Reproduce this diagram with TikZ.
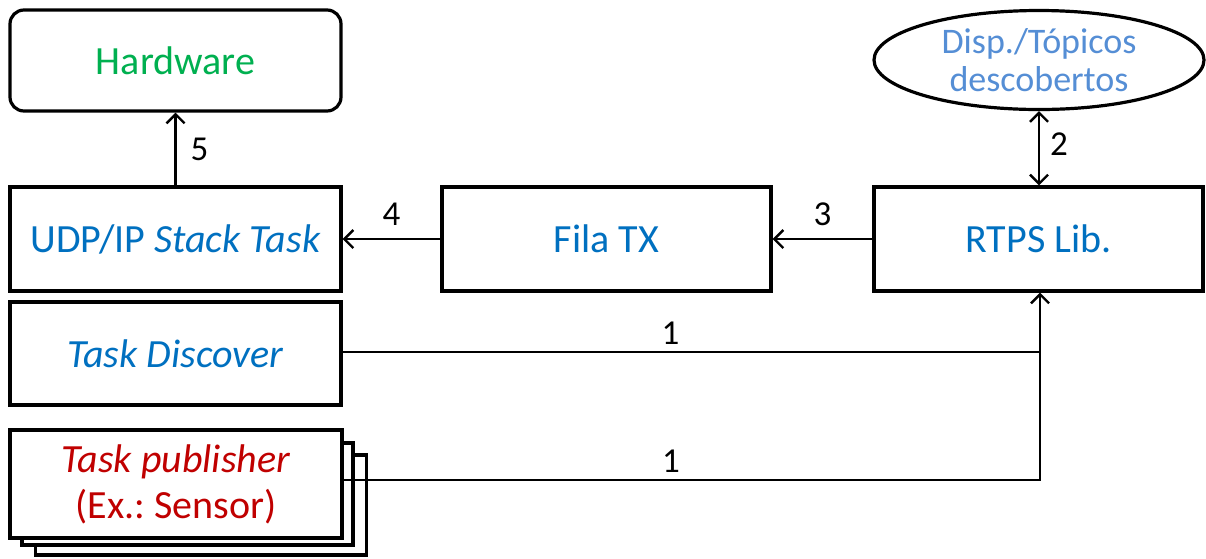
\documentclass[tikz,border=0pt]{standalone}
\usepackage{fontspec}
\setmainfont{Carlito}
\frenchspacing
\usetikzlibrary{arrows.meta,shapes.geometric}
\definecolor{hwgreen}{HTML}{00B050}
\definecolor{txtblue}{HTML}{0070C0}
\definecolor{lightblue}{HTML}{558ED5}
\definecolor{pubred}{HTML}{C00000}
\tikzset{
  box/.style={draw=black, line width=3.2pt, fill=white, rectangle, minimum width=331pt, minimum height=104pt, inner sep=0pt, align=center, font=\fontsize{40}{46}\selectfont},
  tip/.style={Straight Barb[length=9pt,width=18pt,line width=2.4pt]},
  conn/.style={line width=2.4pt, -{Straight Barb[length=9pt,width=18pt,line width=2.4pt]}},
  lbl/.style={font=\fontsize{35}{40}\selectfont, text=black, inner sep=0pt}
}
\begin{document}
\begin{tikzpicture}[x=1pt,y=-1pt]
\useasboundingbox (0,0) rectangle (1206,558);
\node[box, rounded corners=14pt, minimum height=101pt, text=hwgreen] (hw) at (175.5,60.5) {Hardware};
\node[box, text=txtblue] (udp) at (175.5,239) {UDP/IP \textit{Stack Task}};
\node[box, minimum width=329pt, text=txtblue] (fila) at (606.5,239) {Fila TX};
\node[box, minimum width=329pt, text=txtblue] (rtps) at (1038.5,239) {RTPS Lib.};
\node[draw=black, line width=3.2pt, ellipse, minimum width=330pt, minimum height=99pt, inner sep=0pt, align=center, text=lightblue, font=\fontsize{36}{38}\selectfont] (disp) at (1039,60) {Disp./Tópicos\\descobertos};
\node[box, minimum height=103pt, text=txtblue] (disc) at (175.5,353.5) {\textit{Task Discover}};
\node[box, minimum height=100pt] (pub3) at (201,505) {};
\node[box, minimum height=102pt] (pub2) at (187.5,494) {};
\node[box, minimum width=332pt, minimum height=108pt, text=pubred] (pub) at (176,484) {\textit{Task publisher}\\(Ex.: Sensor)};
\coordinate (j) at (1040,352);
\coordinate (jb) at (1040,480);
\draw[conn] (udp.north) -- (hw.south) node[lbl, pos=0.5, right=14pt] (l5) {5};
\draw[line width=2.4pt, {Straight Barb[length=9pt,width=18pt,line width=2.4pt]}-{Straight Barb[length=9pt,width=18pt,line width=2.4pt]}] (disp.south) -- (disp.south |- rtps.north) node[lbl, pos=0.45, right=10pt] (l2) {2};
\draw[conn] (rtps.west) -- (fila.east) node[lbl, pos=0.5, above=12pt] (l3) {3};
\draw[conn] (fila.west) -- (udp.east) node[lbl, pos=0.5, above=12pt] (l4) {4};
\draw[conn] (disc.east |- j) -- (j) node[lbl, pos=0.47, above=6pt] (l1a) {1} -- (j |- rtps.south);
\draw[line width=2.4pt] (pub.east |- jb) -- (jb) node[lbl, pos=0.47, above=6pt] (l1b) {1} -- (j);
\end{tikzpicture}
\end{document}
